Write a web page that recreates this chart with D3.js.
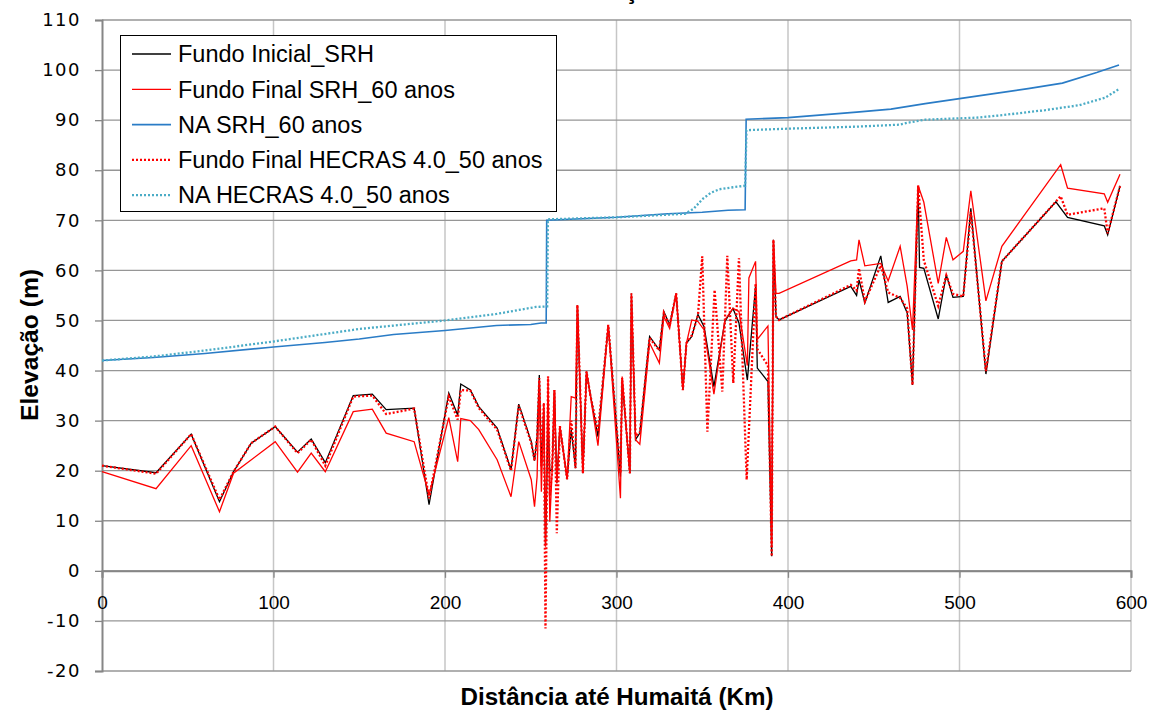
<!DOCTYPE html>
<html lang="pt">
  <head>
    <meta charset="UTF-8">
    <title>Perfil de elevação</title>
    <style>
      body { margin: 0; background: #fff; }
      #chart { width: 1152px; height: 711px; }
    </style>
  </head>
  <body>
    <div id="chart"></div>
    <script src="https://d3js.org/d3.v7.js"></script>
    <script>
        // distance of each cross-section (km) - shared by the three bottom profiles
        var distFundo = [0, 31.5, 52, 68.5, 76.7, 87, 101, 114, 122, 130.2, 146.5, 157.6, 165.7, 182, 190.7,
            202.2, 207.4, 209.2, 214.8, 219.7, 230.4, 238.5, 243, 250.3, 252.2, 253.7, 255, 256.2, 257.6, 258.6,
            260.1, 261.1, 262.5, 263.8, 265.2, 267, 271.2, 273.6, 276.1, 277.2, 280.4, 282.5, 284.8, 289.2, 295.2,
            302.3, 303.3, 307.8, 308.7, 311.1, 313.6, 319.3, 325, 327.6, 331, 334.8, 338.7, 340.8, 343.9, 347.5,
            350, 351.1, 353, 356.8, 357.2, 361.7, 363.2, 364.6, 367.9, 368.1, 371.4, 375.9, 376.3, 377.2, 381.1,
            382.1, 388.3, 390.5, 391.5, 393, 394.8, 436.6, 440, 441.4, 444.8, 454.1, 458.4, 465.4, 469.5, 472.6,
            475.9, 476.7, 479.2, 487.6, 492.3, 496.2, 502.2, 506.6, 515.4, 524.7, 556.2, 559, 563, 584.4, 586.4, 593.6];

        var fundoInicial = [21.0, 19.6, 27.3, 13.8, 19.8, 25.5, 28.8, 23.7, 26.3, 21.6, 35.0, 35.3, 32.2, 32.5, 13.2,
            35.5, 31.1, 37.3, 36.1, 32.8, 28.5, 20.2, 33.3, 25.8, 22.0, 26.8, 39.1, 20.8, 32.1, 5.0,
            30.0, 20.0, 20.2, 36.1, 17.5, 28.9, 18.3, 28.2, 20.5, 53.1, 19.5, 39.8, 35.1, 26.8, 49.1,
            18.8, 38.1, 19.5, 55.4, 26.2, 27.5, 46.8, 44.1, 51.8, 49.1, 55.4, 36.1, 45.5, 46.8, 51.2,
            null, 48.7, null, 36.8, null, null, 49.8, null, 52.4, null, 49.5, null, 38.1, null, 56.8,
            40.5, 37.8, 2.9, 66.1, 50.8, 50.1, 56.8, 55.0, 58.1, 53.5, 62.9, 53.6, 54.8, 51.5, 37.1,
            76.7, 60.6, 60.4, 50.3, 59.1, 54.6, 54.8, 72.4, 39.3, 61.8, 73.7, null, 70.6, 68.9, 67.1, 76.9];

        var fundoFinalSRH = [19.8, 16.4, 25.0, 11.8, 19.5, null, 25.8, 19.7, 23.5, 19.8, 31.8, 32.3, 27.5, 25.8, 15.2,
            30.6, 21.8, 30.4, 30.0, 28.2, 22.2, 14.8, 25.8, 18.2, 12.8, 18.8, 38.1, 15.8, 33.5, 4.8,
            38.8, 9.8, 20.2, 36.1, 17.5, 28.9, 18.3, 34.8, 34.5, 53.1, 19.5, 39.8, 34.9, 25.0, 49.1,
            14.5, 38.8, 19.5, 55.4, 26.2, 25.3, 45.5, 41.5, 50.8, 48.4, 55.4, 36.1, 45.5, 50.1, 49.8,
            null, 48.1, null, 35.3, null, null, 50.1, null, 52.4, null, 51.8, null, 41.0, 58.5, 61.8,
            46.2, 48.9, 5.0, 66.1, 55.4, 55.4, 61.9, 62.1, 66.1, 60.9, 61.4, 57.9, 64.8, 56.8, 48.1,
            76.9, null, 73.6, 57.4, 66.6, 62.1, 63.8, 75.9, 53.9, 64.8, null, 81.1, 76.4, 75.3, 73.6, 79.2];

        var fundoFinalHEC = [21.0, 19.4, 27.3, 14.2, 19.8, 25.5, 28.8, 23.5, 26.2, 21.0, 34.8, 35.0, 31.3, 32.4, 14.5,
            34.8, 30.2, 36.1, 36.0, 32.5, 28.2, 20.0, 33.0, 25.5, 22.0, 26.5, 38.5, 21.0, 33.5, -11.5,
            38.8, 15.0, 20.2, 36.1, 7.5, 28.9, 18.3, 30.0, 20.5, 53.1, 19.5, 39.8, 35.0, 27.8, 49.1,
            19.5, 38.5, 19.5, 55.4, 27.0, 27.5, 46.5, 44.0, 51.5, 49.0, 55.4, 36.1, 45.5, 47.0, 51.0,
            62.8, null, 27.8, null, 56.1, 35.8, null, 62.9, null, 37.5, 62.4, 18.2, null, null, 57.4,
            44.3, 41.0, 2.9, 66.1, 50.8, 50.1, 57.1, 56.0, 60.4, 53.8, 61.0, 55.6, 54.5, 52.4, 37.1,
            77.0, null, 62.0, 52.9, 59.0, 55.3, 54.8, 71.7, 39.9, 61.8, null, 74.8, 71.1, 72.4, 67.4, 76.8];

        // water levels
        var distNaSRH = [0, 30, 60, 100, 130, 150, 170, 200, 230, 250, 256, 259, 259.3, 300, 330, 350, 365, 375,
            375.6, 400, 440, 460, 480, 500, 520, 540, 560, 580, 593];
        var naSRH = [42, 42.6, 43.4, 44.7, 45.6, 46.3, 47.2, 48, 49, 49.2, 49.5, 49.5, 70, 70.6, 71.3, 71.6, 72, 72.1,
            90.2, 90.5, 91.6, 92.2, 93.3, 94.3, 95.3, 96.3, 97.4, 99.5, 101];

        var distNaHEC = [0, 30, 60, 100, 150, 200, 230, 253, 259.6, 260, 300, 340, 345, 350, 355, 360, 368, 375,
            375.8, 400, 440, 465, 470, 480, 510, 525, 550, 570, 585, 593];
        var naHEC = [42, 42.8, 44, 45.8, 48.3, 50, 51.3, 52.7, 52.8, 70.2, 70.6, 71.3, 72.3, 74.2, 75.5, 76.2, 76.6, 76.9,
            88, 88.3, 88.7, 89.1, 89.5, 90.1, 90.5, 91, 92, 93, 94.5, 96.2];

        var seriesNames = ["Fundo Inicial_SRH", "Fundo Final SRH_60 anos", "NA SRH_60 anos",
            "Fundo Final HECRAS 4.0_50 anos", "NA HECRAS 4.0_50 anos"];
        var xTicks = [0, 100, 200, 300, 400, 500, 600];
        var yTicks = [-20, -10, 0, 10, 20, 30, 40, 50, 60, 70, 80, 90, 100, 110];

        function pairs(xs, ys) {
            return xs.map(function(d, i) { return [d, ys[i]]; })
                     .filter(function(d) { return d[1] !== null; });
        }

        var series = [
            {name: seriesNames[0], pts: pairs(distFundo, fundoInicial), color: "#000000", w: 1.3, dash: null},
            {name: seriesNames[1], pts: pairs(distFundo, fundoFinalSRH), color: "#ff0000", w: 1.3, dash: null},
            {name: seriesNames[2], pts: pairs(distNaSRH, naSRH), color: "#2a7cc6", w: 1.6, dash: null},
            {name: seriesNames[3], pts: pairs(distFundo, fundoFinalHEC), color: "#ff0000", w: 2.3, dash: "2,2"},
            {name: seriesNames[4], pts: pairs(distNaHEC, naHEC), color: "#4bacc6", w: 2.3, dash: "2,2"}
        ];

        var W = 1152, H = 711;
        var plotLeft = 102, plotRight = 1131, plotTop = 20, plotBottom = 671;

        var svg = d3.select("#chart").append("svg")
            .attr("width", W).attr("height", H)
            .style("font-family", "'Liberation Sans', Arial, sans-serif");

        var x = d3.scaleLinear().domain([0, 600]).range([plotLeft, plotRight]);
        var y = d3.scaleLinear().domain([-20, 110]).range([plotBottom, plotTop]);

        // title, clipped by the top of the picture (only the cedilla shows)
        svg.append("text")
            .attr("x", 606).attr("y", -1)
            .attr("text-anchor", "middle")
            .style("font-weight", "bold").style("font-size", "24px")
            .text("Simulação");

        // gridlines
        svg.append("g").selectAll("line").data(xTicks.slice(1)).enter().append("line")
            .attr("x1", function(d) { return x(d); }).attr("x2", function(d) { return x(d); })
            .attr("y1", plotTop).attr("y2", plotBottom)
            .attr("stroke", "#c6c6c6").attr("stroke-width", 1.5);
        svg.append("g").selectAll("line").data(yTicks).enter().append("line")
            .attr("x1", plotLeft).attr("x2", plotRight)
            .attr("y1", function(d) { return y(d); }).attr("y2", function(d) { return y(d); })
            .attr("stroke", "#969696").attr("stroke-width", 1.3);

        var plain = function(d) { return String(d); };

        // y axis
        var yAxis = svg.append("g")
            .attr("transform", "translate(" + plotLeft + ",0)")
            .call(d3.axisLeft(y).tickValues(yTicks).tickFormat(plain).tickSize(7).tickPadding(14));
        yAxis.select(".domain").attr("stroke", "#868686").attr("stroke-width", 2);
        yAxis.selectAll(".tick line").attr("stroke", "#868686").attr("stroke-width", 1.3);
        yAxis.selectAll(".tick text")
            .style("font-size", "18px").style("font-family", "'DejaVu Sans', sans-serif")
            .style("letter-spacing", "1.5px")
            .attr("fill", "#000");

        // x axis sits on zero
        var xAxis = svg.append("g")
            .attr("transform", "translate(0," + y(0) + ")")
            .call(d3.axisBottom(x).tickValues(xTicks).tickFormat(plain).tickSize(7).tickPadding(18));
        xAxis.select(".domain").attr("stroke", "#868686").attr("stroke-width", 2);
        xAxis.selectAll(".tick line").attr("stroke", "#868686").attr("stroke-width", 1.3);
        xAxis.selectAll(".tick text")
            .style("font-size", "19px").style("font-family", "'Liberation Sans', Arial, sans-serif")
            .attr("fill", "#000");

        // axis titles
        svg.append("text")
            .attr("x", 617).attr("y", 705)
            .attr("text-anchor", "middle")
            .attr("textLength", 313).attr("lengthAdjust", "spacingAndGlyphs")
            .style("font-weight", "bold").style("font-size", "23px")
            .text("Distância até Humaitá (Km)");
        svg.append("text")
            .attr("transform", "translate(38,345) rotate(-90)")
            .attr("text-anchor", "middle")
            .attr("textLength", 152).attr("lengthAdjust", "spacingAndGlyphs")
            .style("font-weight", "bold").style("font-size", "23px")
            .text("Elevação (m)");

        // lines
        var line = d3.line()
            .x(function(d) { return x(d[0]); })
            .y(function(d) { return y(d[1]); });

        svg.append("g").selectAll("path").data(series).enter().append("path")
            .attr("d", function(d) { return line(d.pts); })
            .attr("fill", "none")
            .attr("stroke", function(d) { return d.color; })
            .attr("stroke-width", function(d) { return d.w; })
            .attr("stroke-dasharray", function(d) { return d.dash; })
            .attr("stroke-linejoin", "miter");

        // legend
        var legend = svg.append("g");
        legend.append("rect")
            .attr("x", 120.5).attr("y", 35.5).attr("width", 436).attr("height", 176)
            .attr("fill", "#fff").attr("stroke", "#000").attr("stroke-width", 1);
        var item = legend.selectAll("g.item").data(series).enter().append("g")
            .attr("class", "item")
            .attr("transform", function(d, i) { return "translate(0," + (54 + i * 35.3) + ")"; });
        item.append("line")
            .attr("x1", 132).attr("x2", 171)
            .attr("stroke", function(d) { return d.color; })
            .attr("stroke-width", function(d) { return d.w; })
            .attr("stroke-dasharray", function(d) { return d.dash; });
        item.append("text")
            .attr("x", 178).attr("dy", "0.35em")
            .style("font-size", "23.5px")
            .text(function(d) { return d.name; });
    </script>
  </body>
</html>
